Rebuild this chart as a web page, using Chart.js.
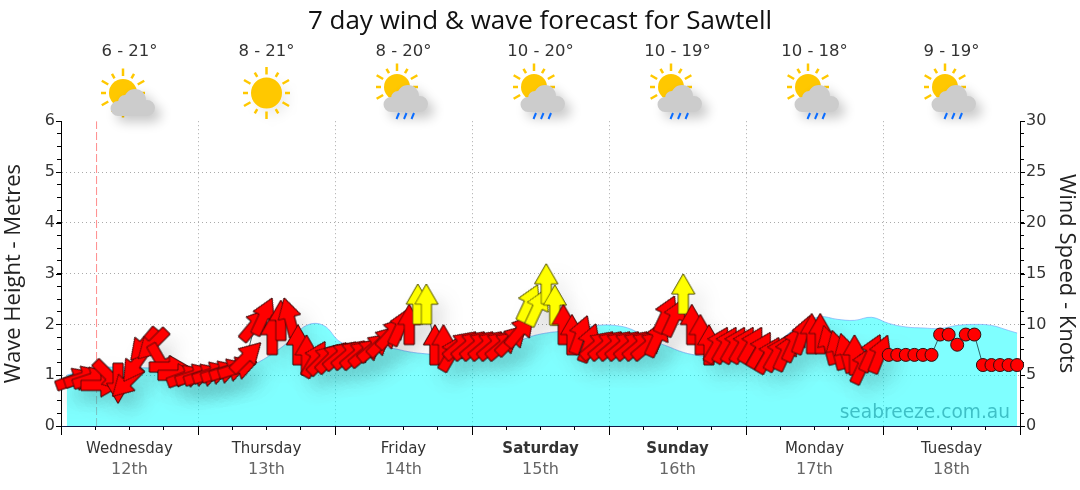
<!DOCTYPE html>
<html>
<head>
<meta charset="utf-8">
<title>Sawtell forecast</title>
<script src="https://cdn.jsdelivr.net/npm/chart.js@4"></script>
<style>
  html, body { margin: 0; padding: 0; background: #fff; }
  canvas { display: block; }
</style>
</head>
<body>
<canvas id="forecast" width="1080" height="490"></canvas>
<script>
// forecast data
const dayNames = ['Wednesday', 'Thursday', 'Friday', 'Saturday', 'Sunday', 'Monday', 'Tuesday'];
const dayDates = ['12th', '13th', '14th', '15th', '16th', '17th', '18th'];
const dayTemps = ['6 - 21°', '8 - 21°', '8 - 20°', '10 - 20°', '10 - 19°', '10 - 18°', '9 - 19°'];
const dayIcons = ['cloud', 'sun', 'rain', 'rain', 'rain', 'rain', 'rain'];
const weekendDays = ['Saturday', 'Sunday'];

const waveHours = [1, 4, 7, 10, 13, 16, 19, 22, 25, 28, 31, 34, 37, 40, 43, 46, 49, 52, 55, 58, 61, 64, 67, 70, 73, 76, 79, 82,
  85, 88, 91, 94, 97, 100, 103, 106, 109, 112, 115, 118, 121, 124, 127, 130, 133, 136, 139, 142, 145, 148, 151, 154, 157, 160, 163, 166, 167.5];
const waveMetres = [1.0, 1.1, 1.15, 1.16, 1.15, 1.14, 1.13, 1.12, 1.1, 1.08, 1.08, 1.22, 1.42, 1.67, 1.98, 1.98, 1.65, 1.6, 1.56, 1.53, 1.46, 1.42, 1.4, 1.4, 1.42, 1.5, 1.6, 1.75,
  1.83, 1.87, 1.92, 1.98, 1.98, 1.9, 1.7, 1.58, 1.45, 1.38, 1.33, 1.35, 1.38, 1.5, 1.78, 2.02, 2.15, 2.1, 2.08, 2.14, 2.02, 1.95, 1.93, 1.92, 1.98, 2.0, 1.98, 1.88, 1.83];

const windHours = [2.5, 4, 5.5, 7, 8.5, 10, 11.5, 13, 14.5, 16, 17.5, 19, 20.5, 22, 23.5, 25, 26.5, 28, 29.5, 31, 32.5, 34, 35.5, 37,
  38.5, 40, 41.5, 43, 44.5, 46, 47.5, 49, 50.5, 52, 53.5, 55, 56.5, 58, 59.5, 61, 62.5, 64, 65.5, 67, 68.5, 70, 71.5, 73,
  74.5, 76, 77.5, 79, 80.5, 82, 83.5, 85, 86.5, 88, 89.5, 91, 92.5, 94, 95.5, 97, 98.5, 100, 101.5, 103, 104.5, 106, 107.5, 109,
  110.5, 112, 113.5, 115, 116.5, 118, 119.5, 121, 122.5, 124, 125.5, 127, 128.5, 130, 131.5, 133, 134.5, 136, 137.5, 139, 140.5, 142, 143.5, 145,
  146.5, 148, 149.5, 151, 152.5, 154, 155.5, 157, 158.5, 160, 161.5, 163, 164.5, 166, 167.5];
const windKnots = [4.6, 4.8, 4.7, 4.0, 4.9, 4.2, 4.3, 6.0, 8.0, 8.0, 6.3, 5.8, 5.0, 4.9, 5.0, 5.0, 5.2, 5.3, 5.5, 5.7, 6.8, 10.0, 10.8, 9.0,
  10.4, 10.7, 8.0, 7.0, 6.6, 6.6, 6.8, 7.0, 7.1, 7.1, 7.3, 7.8, 8.4, 9.2, 9.8, 10.0, 12.0, 12.0, 8.0, 8.0, 7.2, 8.0, 8.0, 8.0,
  8.0, 8.0, 8.0, 8.5, 9.4, 12.1, 11.7, 14.0, 11.9, 10.0, 9.0, 9.0, 8.2, 8.0, 8.0, 8.0, 8.0, 8.0, 8.0, 8.0, 8.7, 11.0, 10.7, 13.0,
  10.0, 9.0, 8.0, 8.0, 8.0, 8.0, 8.0, 8.0, 7.5, 7.0, 7.2, 7.3, 8.2, 9.0, 9.1, 9.1, 8.0, 7.5, 7.2, 7.0, 6.0, 7.2, 7.1, 7,
  7, 7, 7, 7, 7, 9, 9, 8, 9, 9, 6, 6, 6, 6, 6];
// bearing the arrow points at, null where the forecast has no direction
const windBearing = [70, 72, 72, 90, 135, 180, 225, 215, 220, 225, 150, 90, 90, 70, 72, 72, 72, 72, 72, 72, 45, 40, 25, 0,
  0, 345, 0, 0, 30, 45, 45, 50, 50, 50, 50, 50, 45, 42, 25, 0, 0, 0, 0, 0, 30, 50, 50, 50,
  50, 50, 50, 45, 40, 25, 25, 0, 0, 0, 0, 20, 20, 50, 50, 50, 50, 50, 50, 50, 25, 25, 25, 0,
  0, 0, 0, 30, 30, 30, 30, 30, 30, 30, 30, 25, 25, 20, 0, 0, 345, 345, 345, 0, 25, 25, 22, null,
  null, null, null, null, null, null, null, null, null, null, null, null, null, null, null];

const nowHours = [6.23, 6.23];
const nowLevels = [0, 6];

const dayLength = 24;

// arrow marker, drawn once per colour and handed to the point elements
function makeArrow(fill, edge) {
  const c = document.createElement('canvas');
  c.width = 26;
  c.height = 44;
  const g = c.getContext('2d');
  g.beginPath();
  g.moveTo(13, 2);
  g.lineTo(24.5, 22);
  g.lineTo(18, 22);
  g.lineTo(18, 42);
  g.lineTo(8, 42);
  g.lineTo(8, 22);
  g.lineTo(1.5, 22);
  g.closePath();
  g.fillStyle = fill;
  g.fill();
  g.lineWidth = 0.7;
  g.strokeStyle = edge;
  g.stroke();
  return c;
}
const redArrow = makeArrow('#ff0000', '#200808');
const yellowArrow = makeArrow('#ffff00', '#444408');

function windStyle(i) {
  if (windBearing[i] === null) return 'circle';
  return windKnots[i] > 11 ? yellowArrow : redArrow;
}

// flat shadows go down first so they never fall on top of another arrow
const windShadow = {
  id: 'windShadow',
  beforeDatasetDraw(chart, args) {
    if (chart.data.datasets[args.index].label !== 'Wind') return;
    const ctx = chart.ctx;
    ctx.save();
    ctx.shadowColor = 'rgba(0,0,0,0.1)';
    ctx.shadowBlur = 20;
    ctx.shadowOffsetX = 10;
    ctx.shadowOffsetY = 12;
    args.meta.data.forEach((p, i) => {
      if (windBearing[i] !== null) p.draw(ctx, chart.chartArea);
    });
    ctx.restore();
  }
};

function drawSun(ctx, x, y, r) {
  ctx.fillStyle = '#ffc800';
  ctx.beginPath();
  ctx.arc(x, y, r, 0, Math.PI * 2);
  ctx.fill();
  ctx.strokeStyle = '#ffc800';
  ctx.lineWidth = 2.5;
  for (let i = 0; i < 12; i++) {
    const a = i * Math.PI / 6;
    const outer = r + (i % 2 === 0 ? 10.5 : 8);
    ctx.beginPath();
    ctx.moveTo(x + Math.sin(a) * (r + 3), y - Math.cos(a) * (r + 3));
    ctx.lineTo(x + Math.sin(a) * outer, y - Math.cos(a) * outer);
    ctx.stroke();
  }
}

function drawCloud(ctx, x, top) {
  ctx.fillStyle = '#cccccc';
  ctx.beginPath();
  [[5.5, 11, 11], [17.5, 19, 8], [-11.5, 19.5, 7.5], [-4.5, 13, 7]].forEach(([dx, dy, r]) => {
    ctx.moveTo(x + dx + r, top + dy);
    ctx.arc(x + dx, top + dy, r, 0, Math.PI * 2);
  });
  ctx.rect(x - 11.5, top + 15, 29, 12);
  ctx.fill();
}

// weather icons, tick marks that differ in length, and the site name
const decorations = {
  id: 'decorations',
  afterDraw(chart) {
    const ctx = chart.ctx;
    const sx = chart.scales.x;
    const sy = chart.scales.y;
    const sw = chart.scales.y2;
    const area = chart.chartArea;

    ctx.save();
    ctx.strokeStyle = '#000';
    ctx.lineWidth = 1;
    ctx.beginPath();
    for (let d = 0; d <= 7; d++) {
      const px = Math.round(sx.getPixelForValue(d * dayLength)) + 0.5;
      ctx.moveTo(px, area.bottom);
      ctx.lineTo(px, area.bottom + 9);
    }
    for (let v = 0; v <= 6; v++) {
      const py = Math.round(sy.getPixelForValue(v)) + 0.5;
      ctx.moveTo(area.left - 5, py);
      ctx.lineTo(area.left, py);
    }
    sw.ticks.forEach(t => {
      if (t.value % 5 !== 0) return;
      const py = Math.round(sw.getPixelForValue(t.value)) + 0.5;
      ctx.moveTo(area.right, py);
      ctx.lineTo(area.right + 5, py);
    });
    ctx.stroke();
    ctx.restore();

    ctx.save();
    ctx.font = '18.6px "DejaVu Sans"';
    ctx.fillStyle = 'rgba(20,150,160,0.6)';
    ctx.textAlign = 'right';
    ctx.fillText('seabreeze.com.au', 1010, 418);
    ctx.restore();

    dayIcons.forEach((kind, i) => {
      const cx = sx.getPixelForValue(i * dayLength + 12);
      ctx.save();
      if (kind === 'sun') {
        ctx.shadowColor = 'rgba(0,0,0,0.08)';
        ctx.shadowBlur = 14;
        ctx.shadowOffsetX = 6;
        ctx.shadowOffsetY = 6;
        drawSun(ctx, cx, 93, 15.5);
      } else {
        const rainy = kind === 'rain';
        drawSun(ctx, cx - 6.5, rainy ? 87 : 93, rainy ? 13 : 14);
        ctx.shadowColor = 'rgba(0,0,0,0.22)';
        ctx.shadowBlur = 12;
        ctx.shadowOffsetX = 6;
        ctx.shadowOffsetY = 6;
        drawCloud(ctx, rainy ? cx - 1 : cx, rainy ? 85 : 89);
      }
      ctx.restore();
      if (kind === 'rain') {
        ctx.save();
        ctx.strokeStyle = '#0a6cff';
        ctx.lineWidth = 2;
        [-6, 1.5, 9].forEach(dx => {
          ctx.beginPath();
          ctx.moveTo(cx + dx + 1.5, 113);
          ctx.lineTo(cx + dx - 1, 119);
          ctx.stroke();
        });
        ctx.restore();
      }
    });
  }
};

function dayFont(c) {
  const name = c.tick ? dayNames[(c.tick.value - 12) / dayLength] : '';
  return { family: '"DejaVu Sans"', size: 15, weight: weekendDays.includes(name) ? 'bold' : 'normal' };
}

new Chart(document.getElementById('forecast'), {
  type: 'line',
  data: {
    datasets: [
      {
        label: 'Wind',
        order: 0,
        xAxisID: 'x',
        yAxisID: 'y2',
        data: windHours.map((h, i) => ({ x: h, y: windKnots[i] })),
        borderColor: 'rgba(20,60,65,0.8)',
        borderWidth: 1,
        tension: 0,
        fill: false,
        clip: false,
        pointStyle: c => windStyle(c.dataIndex),
        rotation: c => windBearing[c.dataIndex] || 0,
        pointRadius: 6.5,
        pointBackgroundColor: '#ff0000',
        pointBorderColor: '#2a1010',
        pointBorderWidth: 1
      },
      {
        label: 'Wave',
        order: 1,
        xAxisID: 'x',
        yAxisID: 'y',
        data: waveHours.map((h, i) => ({ x: h, y: waveMetres[i] })),
        borderColor: 'rgba(110,160,250,0.6)',
        borderWidth: 1,
        backgroundColor: 'rgba(0,255,255,0.5)',
        tension: 0.4,
        fill: 'origin',
        pointRadius: 0
      },
      {
        label: 'Now',
        order: 2,
        xAxisID: 'x',
        yAxisID: 'y',
        data: nowHours.map((h, i) => ({ x: h, y: nowLevels[i] })),
        borderColor: 'rgba(255,90,90,0.7)',
        borderWidth: 1,
        borderDash: [8, 3],
        pointRadius: 0,
        fill: false
      }
    ]
  },
  options: {
    responsive: false,
    animation: false,
    layout: { padding: { left: 1, right: 1, top: 0, bottom: 0 } },
    plugins: {
      legend: { display: false },
      tooltip: { enabled: false },
      title: {
        display: true,
        text: '7 day wind & wave forecast for Sawtell',
        color: '#111',
        font: { family: '"Open Sans"', size: 26, weight: 'normal' },
        padding: { top: 6, bottom: 0 }
      }
    },
    scales: {
      x: {
        type: 'linear',
        position: 'bottom',
        min: 0,
        max: 168,
        afterFit: s => { s.height = 32; },
        border: { color: '#101848', width: 1, dash: [1, 3] },
        grid: {
          color: c => (c.tick && c.tick.value % dayLength === 0 && c.tick.value > 0 && c.tick.value < 168 ? '#aaa' : 'transparent'),
          tickColor: '#000',
          tickLength: 4,
          drawOnChartArea: true
        },
        ticks: {
          stepSize: 6,
          autoSkip: false,
          maxRotation: 0,
          padding: 10,
          color: '#333',
          font: dayFont,
          callback: v => (v % dayLength === 12 ? dayNames[(v - 12) / dayLength] : '')
        }
      },
      x2: {
        type: 'linear',
        axis: 'x',
        position: 'bottom',
        min: 0,
        max: 168,
        afterFit: s => { s.height = 32; },
        border: { display: false },
        grid: { display: false, drawTicks: false },
        ticks: {
          stepSize: 6,
          autoSkip: false,
          maxRotation: 0,
          padding: 2,
          color: '#666',
          font: { family: '"DejaVu Sans"', size: 16 },
          callback: v => (v % dayLength === 12 ? dayDates[(v - 12) / dayLength] : '')
        }
      },
      x3: {
        type: 'linear',
        axis: 'x',
        position: 'top',
        min: 0,
        max: 168,
        afterFit: s => { s.height = 84; },
        border: { display: false },
        grid: { display: false, drawTicks: false },
        ticks: {
          stepSize: 6,
          autoSkip: false,
          maxRotation: 0,
          padding: 60,
          color: '#333',
          font: { family: '"DejaVu Sans"', size: 16.5 },
          callback: v => (v % dayLength === 12 ? dayTemps[(v - 12) / dayLength] : '')
        }
      },
      y: {
        position: 'left',
        min: 0,
        max: 6,
        afterFit: s => { s.width = 60; },
        border: { color: '#000', width: 1, dash: [1, 3] },
        grid: {
          color: c => (c.tick && Number.isInteger(c.tick.value) && c.tick.value > 0 && c.tick.value < 6 ? '#aaa' : 'transparent'),
          tickColor: '#000',
          tickLength: 4
        },
        ticks: {
          stepSize: 0.25,
          autoSkip: false,
          padding: 2,
          color: '#333',
          font: { family: '"DejaVu Sans"', size: 16 },
          callback: v => (Number.isInteger(v) ? v : '')
        },
        title: {
          display: true,
          text: 'Wave Height - Metres',
          color: '#222',
          font: { family: '"Open Sans"', size: 22 },
          padding: { top: 0, bottom: 0 }
        }
      },
      y2: {
        position: 'right',
        min: 0,
        max: 30,
        afterFit: s => { s.width = 59; },
        border: { color: '#000', width: 1 },
        grid: { drawOnChartArea: false, tickColor: '#000', tickLength: 4 },
        ticks: {
          stepSize: 1.25,
          autoSkip: false,
          padding: 2,
          color: '#333',
          font: { family: '"DejaVu Sans"', size: 16 },
          callback: v => (v % 5 === 0 ? v : '')
        },
        title: {
          display: true,
          text: 'Wind Speed - Knots',
          color: '#222',
          font: { family: '"Open Sans"', size: 22 },
          padding: { top: 0, bottom: 0 }
        }
      }
    }
  },
  plugins: [windShadow, decorations]
});
</script>
</body>
</html>
